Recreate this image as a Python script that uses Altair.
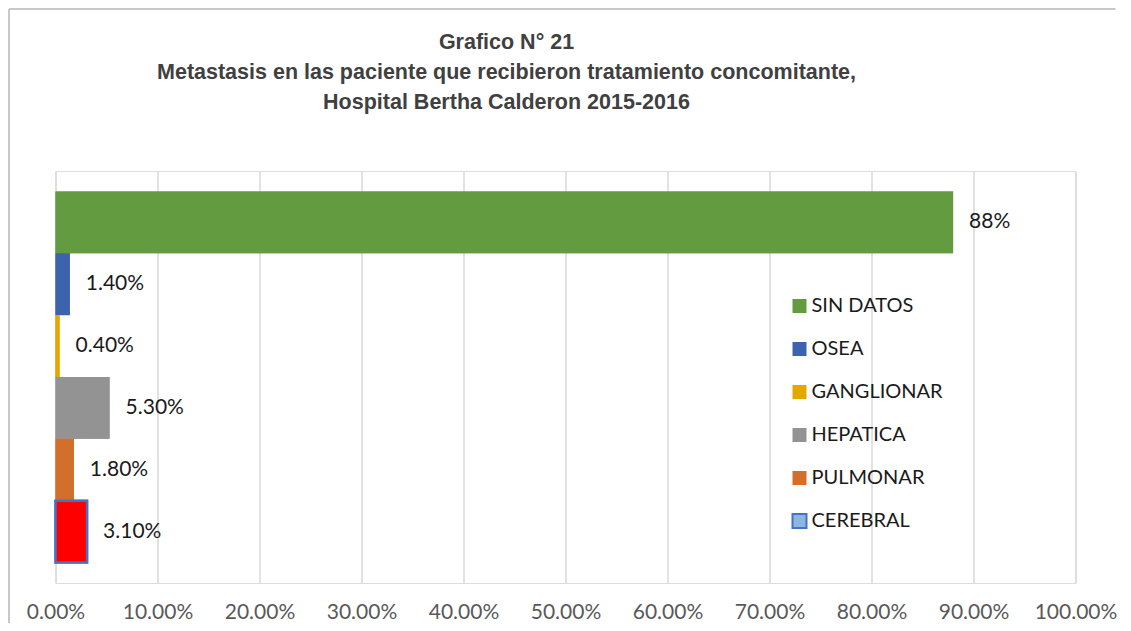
import altair as alt
import pandas as pd

# ---- data ----
CATEGORIES = ["SIN DATOS", "OSEA", "GANGLIONAR", "HEPATICA", "PULMONAR", "CEREBRAL"]
VALUES = [0.88, 0.014, 0.004, 0.053, 0.018, 0.031]
LABELS = ["88%", "1.40%", "0.40%", "5.30%", "1.80%", "3.10%"]
BAR_COLORS = ["#629B40", "#3C63AE", "#E2A800", "#939393", "#D26F2B", "#FF0000"]
LEGEND_FILLS = ["#629B40", "#3C63AE", "#E2A800", "#939393", "#D26F2B", "#8DB4E2"]
LEGEND_STROKES = ["transparent", "transparent", "transparent", "transparent", "transparent", "#4472C4"]
TICK_VALUES = [0.0, 0.1, 0.2, 0.3, 0.4, 0.5, 0.6, 0.7, 0.8, 0.9, 1.0]
TITLE_LINES = [
    "Grafico N° 21",
    "Metastasis en las paciente que recibieron tratamiento concomitante,",
    "Hospital Bertha Calderon 2015-2016",
]

# border legend uses its own domain so it is not merged with the fill legend
BORDER_KEYS = [c + " " for c in CATEGORIES]

df = pd.DataFrame({
    "cat": CATEGORIES, "cat_border": BORDER_KEYS,
    "val": VALUES, "label": LABELS, "fillcol": BAR_COLORS,
})

y_enc = alt.Y(
    "cat:N",
    sort=CATEGORIES,
    scale=alt.Scale(paddingInner=0, paddingOuter=0.33),
    axis=None,
)

x_axis = alt.Axis(
    values=TICK_VALUES,
    format=".2%",
    grid=True,
    gridColor="#D9D9D9",
    gridWidth=1.5,
    domain=False,
    ticks=False,
    labelFont="Lato",
    labelFontSize=21,
    labelColor="#595959",
    labelPadding=18,
    labelOverlap=False,
    labelFlush=False,
    title=None,
)

common_legend = dict(
    title=None,
    orient="none",
    legendX=734,
    legendY=125,
    labelFont="Lato",
    labelFontSize=20,
    symbolType="square",
    symbolSize=196,
    symbolStrokeWidth=2,
    rowPadding=21,
    labelOffset=2,
    padding=0,
)

fill_legend = alt.Legend(
    labelColor="#1a1a1a", symbolStrokeColor="transparent", **common_legend
)
border_legend = alt.Legend(
    labelColor="#1a1a1a", labelOpacity=0, labelExpr="' '",
    symbolFillColor="transparent", **common_legend
)

# zero-width bars at 0 that only carry the two overlaid legends
legend_layer = alt.Chart(df).mark_bar(strokeWidth=2).encode(
    x=alt.X("val:Q", scale=alt.Scale(domain=[0, 1], nice=False), axis=x_axis),
    x2=alt.datum(0),
    y=y_enc,
    color=alt.Color(
        "cat:N", sort=CATEGORIES,
        scale=alt.Scale(domain=CATEGORIES, range=LEGEND_FILLS), legend=fill_legend,
    ),
    stroke=alt.Stroke(
        "cat_border:N", sort=BORDER_KEYS,
        scale=alt.Scale(domain=BORDER_KEYS, range=LEGEND_STROKES), legend=border_legend,
    ),
)

bars = alt.Chart(df).mark_bar(stroke="#4472C4").encode(
    x=alt.X("val:Q"),
    y=y_enc,
    fill=alt.Fill("fillcol:N", scale=None),
    strokeWidth=alt.condition("datum.cat === 'CEREBRAL'", alt.value(2.5), alt.value(0)),
)

texts = alt.Chart(df).mark_text(
    align="left", baseline="middle", dx=16, font="Lato", fontSize=21, color="#1a1a1a"
).encode(
    x=alt.X("val:Q"),
    y=y_enc,
    text="label:N",
)

frame_data = alt.Data(values=[{"f": 1}])
frame_top = alt.Chart(frame_data).mark_rule(
    stroke="#C8C8C8", strokeWidth=2, clip=False
).encode(x=alt.value(-46.5), x2=alt.value(1060), y=alt.value(-162))
frame_left = alt.Chart(frame_data).mark_rule(
    stroke="#C8C8C8", strokeWidth=2, clip=False
).encode(x=alt.value(-46.5), y=alt.value(-162), y2=alt.value(452))

chart = alt.layer(frame_top, frame_left, legend_layer, bars, texts).properties(
    width=1020,
    height=412,
    padding={"left": 47.5, "top": 163, "right": 47, "bottom": 40},
    autosize=alt.AutoSizeParams(type="none"),
    title=alt.TitleParams(
        text=TITLE_LINES,
        font="Liberation Sans",
        fontSize=21.5,
        fontWeight="bold",
        color="#404040",
        lineHeight=30,
        anchor="middle",
        frame="group",
        baseline="bottom",
        dx=-59,
        offset=-127,
    ),
).configure_view(stroke=None).configure(background="white")

chart.save("out.html", embed_options={"renderer": "svg", "actions": False})
